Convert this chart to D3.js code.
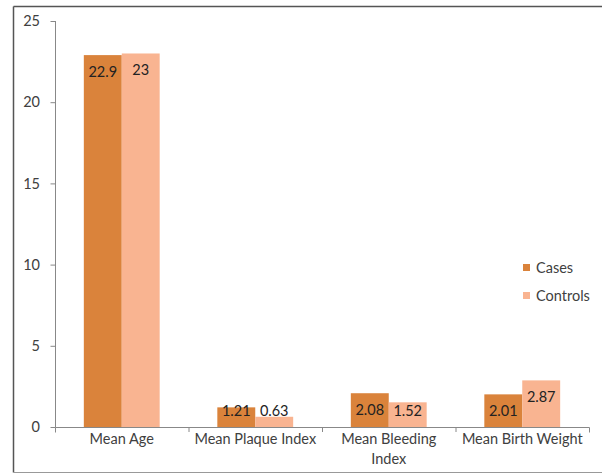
<!DOCTYPE html>
<html>
<head>
<meta charset="utf-8">
<script src="https://cdn.jsdelivr.net/npm/d3@7"></script>
<style>
  body { margin: 0; background: #fff; }
  text { font-family: Lato, "Open Sans", sans-serif; }
</style>
</head>
<body>
<div class="js-chart"></div>
<script>
// chart data
var categories = ["Mean Age", "Mean Plaque Index", "Mean Bleeding Index", "Mean Birth Weight"];
var seriesNames = ["Cases", "Controls"];
var cases = [22.9, 1.21, 2.08, 2.01];
var controls = [23, 0.63, 1.52, 2.87];
var yTicks = [0, 5, 10, 15, 20, 25];
var colors = ["#DA833B", "#F9B491"];

var W = 602, H = 474;
var margin = {top: 21, right: 13, bottom: 47, left: 55};
var width = W - margin.left - margin.right;
var height = H - margin.top - margin.bottom;
var fs = 14.5;

var svg = d3.select(".js-chart").append("svg")
  .attr("width", W)
  .attr("height", H);

// outer frame
svg.append("line").attr("x1", 13.5).attr("x2", W).attr("y1", 6.5).attr("y2", 6.5)
  .attr("stroke", "#555").attr("stroke-width", 1.5);
svg.append("line").attr("x1", 13.5).attr("x2", 13.5).attr("y1", 6.5).attr("y2", 472.5)
  .attr("stroke", "#555").attr("stroke-width", 1.5);
svg.append("line").attr("x1", 13.5).attr("x2", W).attr("y1", 472.5).attr("y2", 472.5)
  .attr("stroke", "#999").attr("stroke-width", 1);

var g = svg.append("g").attr("transform", "translate(" + margin.left + "," + margin.top + ")");

var y = d3.scaleLinear().domain([0, 25]).range([height, 0]);
var x0 = d3.scaleBand().domain(categories).range([0, width]).paddingInner(0).paddingOuter(0);
var x1 = d3.scaleBand().domain(seriesNames).range([0, x0.bandwidth()]).paddingInner(0).paddingOuter(0.76);

// y axis
var yAxis = d3.axisLeft(y).tickValues(yTicks).tickSize(5).tickPadding(10);
var yg = g.append("g").call(yAxis);
yg.select(".domain").attr("stroke", "#888").attr("d", "M0.5,0V" + (height + 0.5));
yg.selectAll(".tick line").attr("stroke", "#888").attr("transform", "translate(0.5,0)");
yg.selectAll("text").attr("font-size", fs).attr("fill", "#404040")
  .style("font-family", "Lato, 'Open Sans', sans-serif");

// bars
var data = categories.map(function(c, i) {
  return [{cat: c, s: seriesNames[0], v: cases[i]}, {cat: c, s: seriesNames[1], v: controls[i]}];
});

var groups = g.selectAll(".grp").data(data).enter().append("g")
  .attr("class", "grp")
  .attr("transform", function(d) { return "translate(" + x0(d[0].cat) + ",0)"; });

groups.selectAll("rect").data(function(d) { return d; }).enter().append("rect")
  .attr("x", function(d) { return x1(d.s); })
  .attr("y", function(d) { return y(d.v); })
  .attr("width", x1.bandwidth())
  .attr("height", function(d) { return height - y(d.v); })
  .attr("fill", function(d, i) { return colors[i]; });

groups.selectAll(".lbl").data(function(d) { return d; }).enter().append("text")
  .attr("class", "lbl")
  .attr("x", function(d) { return x1(d.s) + x1.bandwidth() / 2; })
  .attr("y", function(d) { return Math.min(y(d.v) + 17, height - 16) + 5; })
  .attr("text-anchor", "middle")
  .attr("font-size", fs)
  .attr("fill", "#222")
  .text(function(d) { return d.v; });

// x axis
var xAxis = d3.axisBottom(x0).tickSize(0).tickFormat("");
var xg = g.append("g").attr("transform", "translate(0," + height + ")").call(xAxis);
xg.select(".domain").attr("stroke", "#888").attr("d", "M0.5,5.5V0.5H" + (width + 0.5) + "V5.5");
categories.forEach(function(c, i) {
  if (i > 0) {
    xg.append("line").attr("x1", x0(c) + 0.5).attr("x2", x0(c) + 0.5)
      .attr("y1", 0).attr("y2", 5).attr("stroke", "#888");
  }
});

var xLabels = [["Mean Age"], ["Mean Plaque Index"], ["Mean Bleeding", "Index"], ["Mean Birth Weight"]];
xg.selectAll(".xl").data(categories).enter().append("text")
  .attr("class", "xl")
  .attr("x", function(d) { return x0(d) + x0.bandwidth() / 2; })
  .attr("y", 16.5)
  .attr("text-anchor", "middle")
  .attr("font-size", fs)
  .attr("fill", "#404040")
  .each(function(d, i) {
    var t = d3.select(this);
    xLabels[i].forEach(function(line, j) {
      t.append("tspan").attr("x", x0(d) + x0.bandwidth() / 2).attr("dy", j === 0 ? 0 : 20).text(line);
    });
  });

// legend
var legend = svg.append("g").attr("transform", "translate(523,262)");
seriesNames.forEach(function(s, i) {
  var row = legend.append("g").attr("transform", "translate(0," + (i * 28) + ")");
  row.append("rect").attr("width", 7).attr("height", 7).attr("y", 2).attr("fill", colors[i]);
  row.append("text").attr("x", 13).attr("y", 11).attr("font-size", fs).attr("fill", "#404040").text(s);
});
</script>
</body>
</html>
